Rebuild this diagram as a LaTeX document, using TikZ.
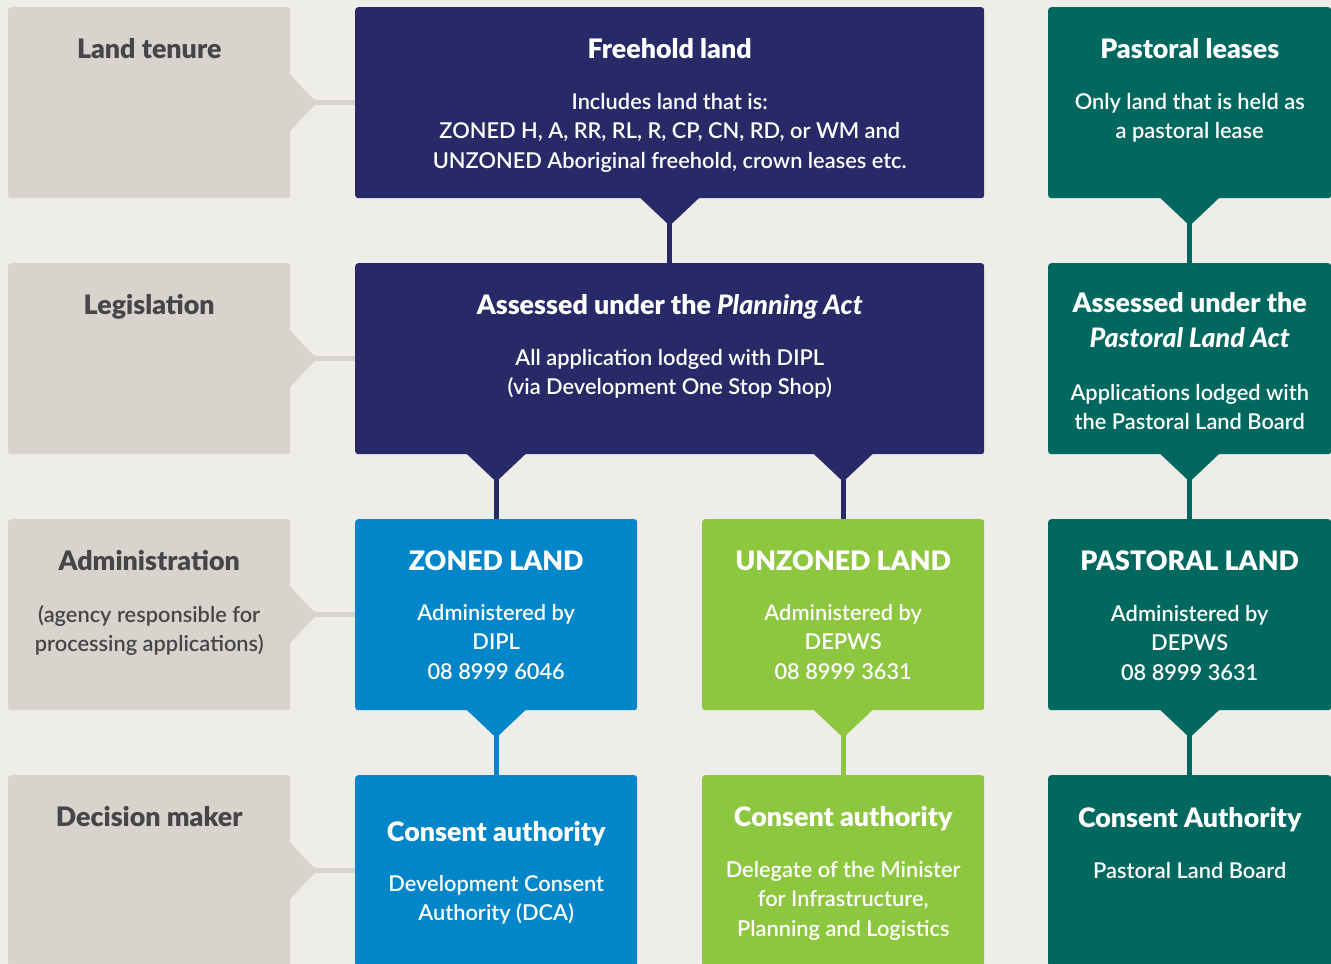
\documentclass[tikz,border=0pt]{standalone}
\usepackage{fontspec}
\setmainfont{Lato}
\newfontfamily\bodyfont{Lato Semibold}
\newfontfamily\titlefont{Lato Black}[ItalicFont={Lato Black Italic}]
\usetikzlibrary{positioning}
\definecolor{pagebg}{HTML}{EEEDEA}
\definecolor{sidegrey}{HTML}{D8D3CC}
\definecolor{sidetext}{HTML}{46464A}
\definecolor{plnavy}{HTML}{282A67}
\definecolor{plteal}{HTML}{00685F}
\definecolor{zoneblue}{HTML}{0086C9}
\definecolor{unzgreen}{HTML}{8DC63F}

\begin{document}
\begin{tikzpicture}[x=1pt, y=-1pt,
    box/.style={rounded corners=3pt, minimum height=191pt, anchor=north west, inner sep=0pt},
    narrow/.style={box, minimum width=282pt},
    wide/.style={box, minimum width=629pt},
    rightcol/.style={box, minimum width=283pt},
    title/.style={anchor=north, align=center, inner sep=0pt, text=white,
        font=\titlefont\fontsize{26.8}{35}\selectfont, execute at begin node=\rule{0pt}{22pt}},
    body/.style={anchor=north, align=center, inner sep=0pt, text=white,
        font=\bodyfont\fontsize{21.8}{29.5}\selectfont, execute at begin node=\rule{0pt}{17pt}},
    link/.style={line width=5pt},
    ptrd/.pic={\fill (-30,-1) -- (-2.5,25) -- (2.5,25) -- (30,-1) -- cycle;},
    ptrr/.pic={\fill (-1,-29) -- (24,-2.5) -- (24,2.5) -- (-1,29) -- cycle;}]

    \clip (0,0) rectangle (1331,964);
    \fill[pagebg] (0,0) rectangle (1331,964);

    \node[narrow, fill=sidegrey] (lt) at (8,7) {};
    \node[narrow, fill=sidegrey] (leg) at (8,263) {};
    \node[narrow, fill=sidegrey] (adm) at (8,519) {};
    \node[narrow, fill=sidegrey] (dec) at (8,775) {};

    \node[wide, fill=plnavy] (fh) at (355,7) {};
    \node[wide, fill=plnavy] (pa) at (355,263) {};
    \node[narrow, fill=zoneblue] (zl) at (355,519) {};
    \node[narrow, fill=unzgreen] (ul) at (702,519) {};
    \node[narrow, fill=zoneblue] (zc) at (355,775) {};
    \node[narrow, fill=unzgreen] (uc) at (702,775) {};

    \node[rightcol, fill=plteal] (pl) at (1048,7) {};
    \node[rightcol, fill=plteal] (pla) at (1048,263) {};
    \node[rightcol, fill=plteal] (pland) at (1048,519) {};
    \node[rightcol, fill=plteal] (pc) at (1048,775) {};

    \foreach \n/\m in {lt/fh, leg/pa, adm/zl, dec/zc} {
        \draw[link, sidegrey] (\n.east) -- (\n.east -| \m.west);
        \pic[sidegrey] at (\n.east) {ptrr};
    }

    \draw[link, plnavy] (fh) -- (pa);
    \draw[link, plnavy] (zl.north |- pa.south) -- (zl.north);
    \draw[link, plnavy] (ul.north |- pa.south) -- (ul.north);
    \draw[link, zoneblue] (zl) -- (zc);
    \draw[link, unzgreen] (ul) -- (uc);
    \draw[link, plteal] (pl) -- (pla);
    \draw[link, plteal] (pla) -- (pland);
    \draw[link, plteal] (pland) -- (pc);

    \pic[plnavy] at (fh.south) {ptrd};
    \pic[plnavy] at (zl.north |- pa.south) {ptrd};
    \pic[plnavy] at (ul.north |- pa.south) {ptrd};
    \pic[zoneblue] at (zl.south) {ptrd};
    \pic[unzgreen] at (ul.south) {ptrd};
    \pic[plteal] at (pl.south) {ptrd};
    \pic[plteal] at (pla.south) {ptrd};
    \pic[plteal] at (pland.south) {ptrd};

    \node[title, text=sidetext] (lt-t) at ([yshift=-29pt]lt.north) {Land tenure};
    \node[title, text=sidetext] (leg-t) at ([yshift=-29pt]leg.north) {Legislation};
    \node[title, text=sidetext] (adm-t) at ([yshift=-29pt]adm.north) {Administration};
    \node[body, text=sidetext] (adm-b) at ([yshift=-86pt]adm.north) {(agency responsible for\\processing applications)};
    \node[title, text=sidetext] (dec-t) at ([yshift=-29pt]dec.north) {Decision maker};

    \node[title] (fh-t) at ([yshift=-29pt]fh.north) {Freehold land};
    \node[body] (fh-b) at ([yshift=-86pt]fh.north) {Includes land that is:\\ZONED H, A, RR, RL, R, CP, CN, RD, or WM and\\UNZONED Aboriginal freehold, crown leases etc.};
    \node[title] (pa-t) at ([yshift=-29pt]pa.north) {Assessed under the \textit{Planning Act}};
    \node[body] (pa-b) at ([yshift=-86pt]pa.north) {All application lodged with DIPL\\(via Development One Stop Shop)};

    \node[title] (zl-t) at ([yshift=-29pt]zl.north) {ZONED LAND};
    \node[body] (zl-b) at ([yshift=-85pt]zl.north) {Administered by\\DIPL\\08 8999 6046};
    \node[title] (ul-t) at ([yshift=-29pt]ul.north) {UNZONED LAND};
    \node[body] (ul-b) at ([yshift=-85pt]ul.north) {Administered by\\DEPWS\\08 8999 3631};
    \node[title] (zc-t) at ([yshift=-44pt]zc.north) {Consent authority};
    \node[body] (zc-b) at ([yshift=-100pt]zc.north) {Development Consent\\Authority (DCA)};
    \node[title] (uc-t) at ([yshift=-29pt]uc.north) {Consent authority};
    \node[body] (uc-b) at ([yshift=-86pt]uc.north) {Delegate of the Minister\\for Infrastructure,\\Planning and Logistics};

    \node[title] (pl-t) at ([yshift=-29pt]pl.north) {Pastoral leases};
    \node[body] (pl-b) at ([yshift=-86pt]pl.north) {Only land that is held as\\a pastoral lease};
    \node[title] (pla-t) at ([yshift=-29pt]pla.north) {Assessed under the\\\textit{Pastoral Land Act}};
    \node[body] (pla-b) at ([yshift=-121pt]pla.north) {Applications lodged with\\the Pastoral Land Board};
    \node[title] (pland-t) at ([yshift=-29pt]pland.north) {PASTORAL LAND};
    \node[body] (pland-b) at ([yshift=-86pt]pland.north) {Administered by\\DEPWS\\08 8999 3631};
    \node[title] (pc-t) at ([yshift=-30pt]pc.north) {Consent Authority};
    \node[body] (pc-b) at ([yshift=-86pt]pc.north) {Pastoral Land Board};
\end{tikzpicture}
\end{document}
